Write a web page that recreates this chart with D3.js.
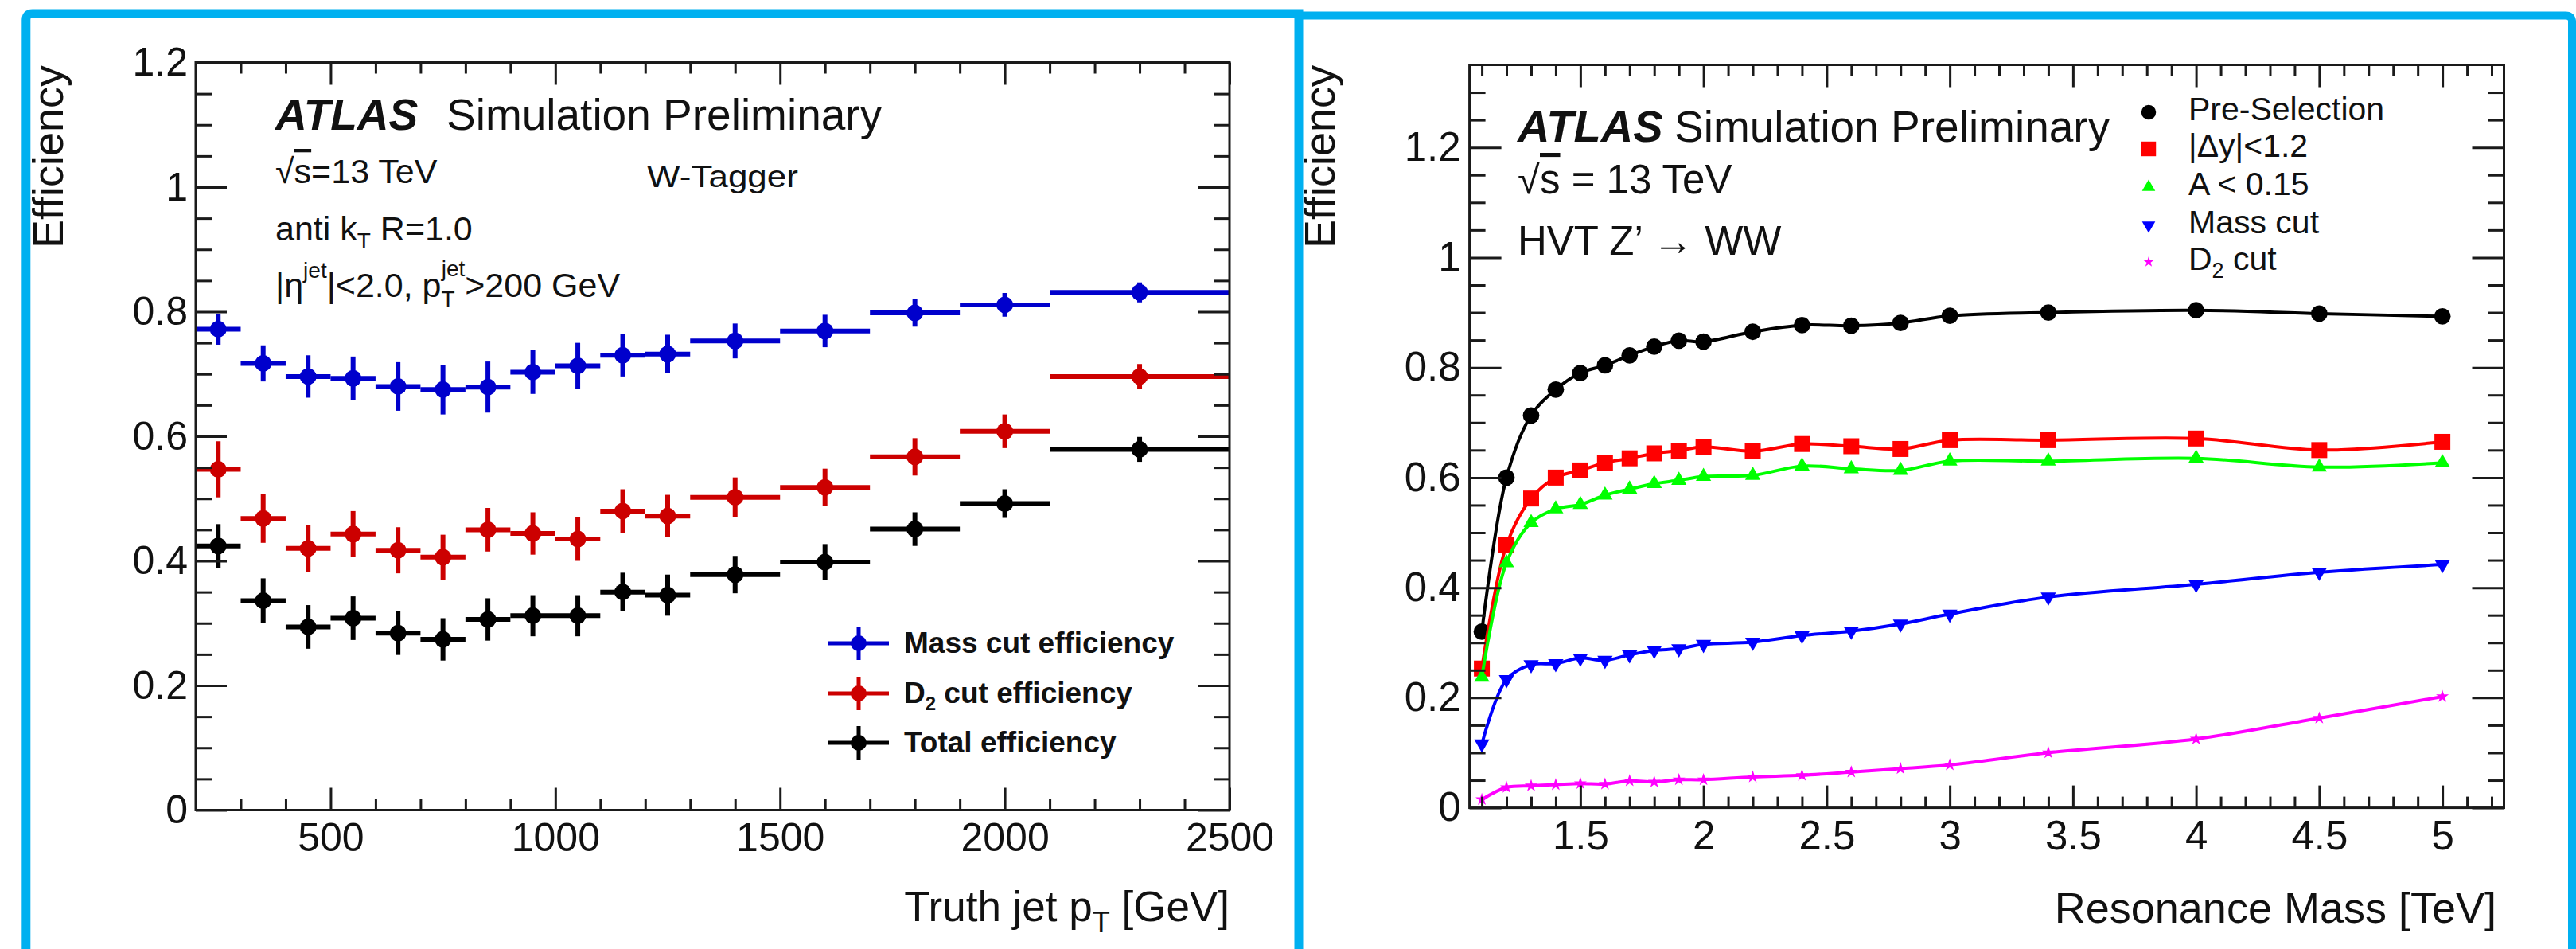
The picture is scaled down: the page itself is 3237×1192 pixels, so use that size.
<!DOCTYPE html>
<html>
<head>
<meta charset="utf-8">
<script src="https://cdn.jsdelivr.net/npm/d3@7"></script>
<style>
  html, body { margin: 0; padding: 0; background: #fff; }
  svg { display: block; font-family: "Liberation Sans", Arial, Helvetica, sans-serif; }
  .ovl { text-decoration: overline; }
</style>
</head>
<body>
<svg id="fig" width="3237" height="1192"></svg>
<script>
// ---------- W-tagger efficiency vs truth jet pT ----------
const ptEdges   = [200, 300, 400, 500, 600, 700, 800, 900, 1000, 1100, 1200, 1300, 1500, 1700, 1900, 2100, 2500];
const massEff   = [0.772, 0.717, 0.696, 0.693, 0.680, 0.675, 0.679, 0.703, 0.713, 0.730, 0.732, 0.753, 0.769, 0.798, 0.811, 0.831];
const massErr   = [0.025, 0.029, 0.034, 0.035, 0.039, 0.040, 0.041, 0.035, 0.037, 0.034, 0.031, 0.028, 0.026, 0.022, 0.019, 0.016];
const d2Eff     = [0.547, 0.468, 0.420, 0.443, 0.417, 0.406, 0.450, 0.444, 0.435, 0.480, 0.472, 0.502, 0.518, 0.567, 0.608, 0.696];
const d2Err     = [0.045, 0.039, 0.038, 0.037, 0.037, 0.036, 0.035, 0.034, 0.035, 0.035, 0.034, 0.032, 0.030, 0.030, 0.027, 0.020];
const totalEff  = [0.424, 0.336, 0.294, 0.308, 0.284, 0.274, 0.306, 0.312, 0.312, 0.350, 0.345, 0.378, 0.398, 0.451, 0.492, 0.579];
const totalErr  = [0.035, 0.036, 0.035, 0.035, 0.035, 0.034, 0.034, 0.033, 0.033, 0.031, 0.033, 0.030, 0.029, 0.027, 0.023, 0.020];
const ptTicks   = [500, 1000, 1500, 2000, 2500];
const effTicksL = [0, 0.2, 0.4, 0.6, 0.8, 1, 1.2];
const leftSeriesNames = ["Mass cut efficiency", "D2 cut efficiency", "Total efficiency"];

// ---------- Cut-flow efficiency vs resonance mass ----------
const masses    = [1.1, 1.2, 1.3, 1.4, 1.5, 1.6, 1.7, 1.8, 1.9, 2.0, 2.2, 2.4, 2.6, 2.8, 3.0, 3.4, 4.0, 4.5, 5.0];
const preSel    = [0.320, 0.600, 0.713, 0.760, 0.790, 0.804, 0.822, 0.838, 0.849, 0.847, 0.865, 0.877, 0.876, 0.881, 0.894, 0.900, 0.904, 0.898, 0.893];
const dyCut     = [0.253, 0.477, 0.562, 0.600, 0.613, 0.627, 0.635, 0.644, 0.649, 0.656, 0.648, 0.661, 0.657, 0.652, 0.668, 0.668, 0.671, 0.650, 0.665];
const asymCut   = [0.237, 0.445, 0.518, 0.543, 0.551, 0.568, 0.579, 0.589, 0.595, 0.602, 0.604, 0.621, 0.616, 0.613, 0.630, 0.630, 0.635, 0.619, 0.627];
const massCut   = [0.116, 0.233, 0.260, 0.262, 0.272, 0.268, 0.278, 0.286, 0.289, 0.297, 0.301, 0.313, 0.321, 0.334, 0.352, 0.383, 0.406, 0.428, 0.442];
const d2Cut     = [0.015, 0.037, 0.040, 0.042, 0.044, 0.043, 0.049, 0.047, 0.051, 0.051, 0.056, 0.059, 0.065, 0.071, 0.078, 0.100, 0.125, 0.163, 0.202];
const massTicks = [1.5, 2, 2.5, 3, 3.5, 4, 4.5, 5];
const effTicksR = [0, 0.2, 0.4, 0.6, 0.8, 1, 1.2];

const svg = d3.select("#fig");
const FRAME = "#1a1a1a";
const PANEL_BLUE = "#00b0f0";

// Panel outlines
svg.append("path")
  .attr("d", "M32.8,1200 L32.8,25 Q32.8,17 40.8,17 L1632,17 L1632,1200")
  .attr("fill", "none").attr("stroke", PANEL_BLUE).attr("stroke-width", 11);
svg.append("path")
  .attr("d", "M1632,19.5 L3224,19.5 Q3232,19.5 3232,27.5 L3232,1200")
  .attr("fill", "none").attr("stroke", PANEL_BLUE).attr("stroke-width", 10);

// Draws a frame with inward ticks on all four sides
function drawFrame(g, x, y, opt) {
  const [x0, x1] = x.range();
  const [y1, y0] = y.range();
  const minorX = opt.minorX, minorY = opt.minorY;

  const styleAxis = sel => {
    sel.select(".domain").remove();
    sel.selectAll(".tick line").attr("stroke", FRAME).attr("stroke-width", 3);
  };
  const noLabels = sel => sel.selectAll("text").remove();
  const styleLabels = s => s.selectAll("text").attr("font-size", opt.tickFont).attr("fill", "#111")
    .attr("font-family", "Liberation Sans, Arial, sans-serif");

  // bottom
  g.append("g").attr("transform", `translate(0,${y1})`)
    .call(d3.axisBottom(x).tickValues(minorX).tickSize(-opt.xMinor).tickFormat(""))
    .call(styleAxis).call(noLabels);
  g.append("g").attr("transform", `translate(0,${y1})`)
    .call(d3.axisBottom(x).tickValues(opt.xTicks).tickSize(-opt.xMajor).tickPadding(opt.xPad).tickFormat(d3.format("~g")))
    .call(styleAxis).call(styleLabels);
  // top
  g.append("g").attr("transform", `translate(0,${y0})`)
    .call(d3.axisTop(x).tickValues(minorX).tickSize(-opt.xMinor).tickFormat(""))
    .call(styleAxis).call(noLabels);
  g.append("g").attr("transform", `translate(0,${y0})`)
    .call(d3.axisTop(x).tickValues(opt.xTicks).tickSize(-opt.xMajor).tickFormat(""))
    .call(styleAxis).call(noLabels);
  // left
  g.append("g").attr("transform", `translate(${x0},0)`)
    .call(d3.axisLeft(y).tickValues(minorY).tickSize(-opt.yMinor).tickFormat(""))
    .call(styleAxis).call(noLabels);
  g.append("g").attr("transform", `translate(${x0},0)`)
    .call(d3.axisLeft(y).tickValues(opt.yTicks).tickSize(-opt.yMajor).tickPadding(opt.yPad).tickFormat(d3.format("~g")))
    .call(styleAxis).call(styleLabels);
  // right
  g.append("g").attr("transform", `translate(${x1},0)`)
    .call(d3.axisRight(y).tickValues(minorY).tickSize(-opt.yMinor).tickFormat(""))
    .call(styleAxis).call(noLabels);
  g.append("g").attr("transform", `translate(${x1},0)`)
    .call(d3.axisRight(y).tickValues(opt.yTicks).tickSize(-opt.yMajor).tickFormat(""))
    .call(styleAxis).call(noLabels);

  g.append("rect").attr("x", x0).attr("y", y0).attr("width", x1 - x0).attr("height", y1 - y0)
    .attr("fill", "none").attr("stroke", FRAME).attr("stroke-width", 3);
}

// Text with sub/superscript pieces
function richText(g, x, y, size, parts, extra) {
  const t = g.append("text").attr("x", x).attr("y", y).attr("font-size", size).attr("fill", "#111");
  if (extra) extra(t);
  parts.forEach(p => {
    const ts = t.append("tspan").text(p.t);
    if (p.dy) ts.attr("dy", p.dy);
    if (p.dx) ts.attr("dx", p.dx);
    if (p.s) ts.attr("font-size", p.s);
    if (p.w) ts.attr("font-weight", p.w);
    if (p.c) ts.attr("class", p.c);
  });
  return t;
}

// ================= Left panel =================
{
  const g = svg.append("g");
  const x = d3.scaleLinear().domain([200, 2500]).range([246, 1545]);
  const y = d3.scaleLinear().domain([0, 1.2]).range([1017.5, 78.5]);

  const bins = d3.range(ptEdges.length - 1).map(i => ({ lo: ptEdges[i], hi: ptEdges[i + 1] }));
  const series = [
    { name: leftSeriesNames[0], color: "#0000cc", v: massEff, e: massErr },
    { name: leftSeriesNames[1], color: "#cc0000", v: d2Eff, e: d2Err },
    { name: leftSeriesNames[2], color: "#000000", v: totalEff, e: totalErr }
  ];

  // draw total first, mass cut last so it sits on top
  series.slice().reverse().forEach(s => {
    const sg = g.append("g");
    bins.forEach((b, i) => {
      const c = (b.lo + b.hi) / 2;
      sg.append("line").attr("x1", x(b.lo)).attr("x2", x(b.hi)).attr("y1", y(s.v[i])).attr("y2", y(s.v[i]))
        .attr("stroke", s.color).attr("stroke-width", 6);
      sg.append("line").attr("x1", x(c)).attr("x2", x(c)).attr("y1", y(s.v[i] - s.e[i])).attr("y2", y(s.v[i] + s.e[i]))
        .attr("stroke", s.color).attr("stroke-width", 6);
      sg.append("circle").attr("cx", x(c)).attr("cy", y(s.v[i])).attr("r", 10.5).attr("fill", s.color);
    });
  });

  drawFrame(g, x, y, {
    xTicks: ptTicks, yTicks: effTicksL,
    minorX: d3.range(300, 2500, 100).filter(v => v % 500 !== 0),
    minorY: d3.range(0.05, 1.2, 0.05).filter(v => Math.abs(v / 0.2 - Math.round(v / 0.2)) > 1e-6),
    xMajor: 28, xMinor: 14, yMajor: 39, yMinor: 20,
    xPad: 16, yPad: 10, tickFont: 50
  });

  // axis titles
  richText(g, 1545, 1157, 53, [
    { t: "Truth jet p" }, { t: "T", s: 36, dy: 14 }, { t: " [GeV]", s: 53, dy: -14 }
  ], t => t.attr("text-anchor", "end"));
  g.append("text").attr("transform", "translate(79,82) rotate(-90)").attr("text-anchor", "end")
    .attr("font-size", 54).attr("fill", "#111").text("Efficiency");

  // labels
  g.append("text").attr("x", 346).attr("y", 163).attr("font-size", 55).attr("font-weight", "bold")
    .attr("font-style", "italic").attr("fill", "#111").text("ATLAS");
  g.append("text").attr("x", 561).attr("y", 163).attr("font-size", 55).attr("fill", "#111").text("Simulation Preliminary");
  richText(g, 346, 230, 43, [{ t: "√" }, { t: "s", c: "ovl" }, { t: "=13 TeV" }]);
  g.append("text").attr("x", 813).attr("y", 235).attr("font-size", 38).attr("fill", "#111")
    .attr("textLength", 190).attr("lengthAdjust", "spacingAndGlyphs").text("W-Tagger");
  richText(g, 346, 302, 43, [
    { t: "anti k" }, { t: "T", s: 28, dy: 10 }, { t: " R=1.0", s: 43, dy: -10 }
  ]);
  richText(g, 346, 373, 43, [
    { t: "|η" }, { t: "jet", s: 28, dy: -24 }, { t: "|<2.0, p", s: 43, dy: 24 },
    { t: "T", s: 28, dy: 12 }, { t: "jet", s: 28, dy: -38, dx: -17 }, { t: ">200 GeV", s: 43, dy: 26 }
  ]);

  // legend
  const legY = [808, 871, 933];
  series.forEach((s, i) => {
    const lg = g.append("g");
    lg.append("line").attr("x1", 1041).attr("x2", 1117).attr("y1", legY[i]).attr("y2", legY[i])
      .attr("stroke", s.color).attr("stroke-width", 5);
    lg.append("line").attr("x1", 1079).attr("x2", 1079).attr("y1", legY[i] - 21).attr("y2", legY[i] + 21)
      .attr("stroke", s.color).attr("stroke-width", 5);
    lg.append("circle").attr("cx", 1079).attr("cy", legY[i]).attr("r", 10).attr("fill", s.color);
  });
  const legText = (yy, parts) => richText(g, 1136, yy, 37, parts, t => t.attr("font-weight", "bold"));
  legText(legY[0] + 12, [{ t: "Mass cut efficiency" }]);
  legText(legY[1] + 12, [{ t: "D" }, { t: "2", s: 24, dy: 9 }, { t: " cut efficiency", s: 37, dy: -9 }]);
  legText(legY[2] + 12, [{ t: "Total efficiency" }]);
}

// ================= Right panel =================
{
  const g = svg.append("g");
  const x = d3.scaleLinear().domain([1.05, 5.25]).range([1846.6, 3146.5]);
  const y = d3.scaleLinear().domain([0, 1.35]).range([1014.6, 81.5]);

  const series = [
    { name: "Pre-Selection", color: "#000000", v: preSel, sym: d3.symbolCircle, size: 340, legSize: 270, rot: 0 },
    { name: "|Δy|<1.2", color: "#ff0000", v: dyCut, sym: d3.symbolSquare, size: 400, legSize: 340, rot: 0 },
    { name: "A < 0.15", color: "#00ff00", v: asymCut, sym: d3.symbolTriangle, size: 160, legSize: 120, rot: 0 },
    { name: "Mass cut", color: "#0000ff", v: massCut, sym: d3.symbolTriangle, size: 160, legSize: 120, rot: 180 },
    { name: "D2 cut", color: "#ff00ff", v: d2Cut, sym: d3.symbolStar, size: 80, legSize: 55, rot: 0 }
  ];

  const line = d3.line().x(d => x(d[0])).y(d => y(d[1])).curve(d3.curveCatmullRom.alpha(0.5));

  series.forEach(s => {
    const pts = masses.map((m, i) => [m, s.v[i]]);
    g.append("path").attr("d", line(pts)).attr("fill", "none").attr("stroke", s.color).attr("stroke-width", 4);
    g.append("g").selectAll("path").data(pts).join("path")
      .attr("d", d3.symbol(s.sym, s.size))
      .attr("transform", d => `translate(${x(d[0])},${y(d[1])}) rotate(${s.rot})`)
      .attr("fill", s.color);
  });

  drawFrame(g, x, y, {
    xTicks: massTicks, yTicks: effTicksR,
    minorX: d3.range(1.1, 5.25, 0.1).filter(v => Math.abs(v * 2 - Math.round(v * 2)) > 1e-6),
    minorY: d3.range(0.05, 1.35, 0.05).filter(v => Math.abs(v / 0.2 - Math.round(v / 0.2)) > 1e-6),
    xMajor: 28, xMinor: 14, yMajor: 40, yMinor: 20,
    xPad: 16, yPad: 11, tickFont: 51
  });

  g.append("text").attr("x", 3137).attr("y", 1159).attr("text-anchor", "end")
    .attr("font-size", 54).attr("fill", "#111").text("Resonance Mass [TeV]");
  g.append("text").attr("transform", "translate(1677,82) rotate(-90)").attr("text-anchor", "end")
    .attr("font-size", 54).attr("fill", "#111").text("Efficiency");

  g.append("text").attr("x", 1907).attr("y", 178).attr("font-size", 56).attr("font-weight", "bold")
    .attr("font-style", "italic").attr("fill", "#111").text("ATLAS");
  g.append("text").attr("x", 2104).attr("y", 178).attr("font-size", 55).attr("fill", "#111").text("Simulation Preliminary");
  richText(g, 1907, 243, 51, [{ t: "√" }, { t: "s", c: "ovl" }, { t: " = 13 TeV" }]);
  g.append("text").attr("x", 1907).attr("y", 320).attr("font-size", 51).attr("fill", "#111").text("HVT Z’ → WW");

  // legend
  const legBase = [151, 197, 245, 293, 339];
  series.forEach((s, i) => {
    g.append("path").attr("d", d3.symbol(s.sym, s.legSize))
      .attr("transform", `translate(2700,${legBase[i] - 10}) rotate(${s.rot})`)
      .attr("fill", s.color);
  });
  const lt = (i, parts) => richText(g, 2750, legBase[i], 41, parts);
  lt(0, [{ t: "Pre-Selection" }]);
  lt(1, [{ t: "|Δy|<1.2" }]);
  lt(2, [{ t: "A < 0.15" }]);
  lt(3, [{ t: "Mass cut" }]);
  lt(4, [{ t: "D" }, { t: "2", s: 27, dy: 10 }, { t: " cut", s: 41, dy: -10 }]);
}
</script>
</body>
</html>
